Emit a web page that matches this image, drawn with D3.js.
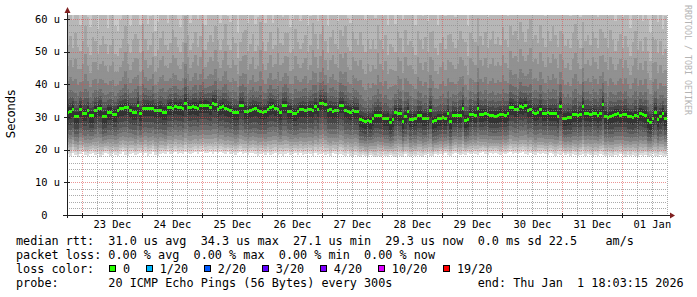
<!DOCTYPE html>
<html><head><meta charset="utf-8">
<script src="https://cdn.jsdelivr.net/npm/d3@7/dist/d3.min.js"></script>
<style>
html,body{margin:0;padding:0;background:#fff;}
svg{display:block;}
text{white-space:pre;}
</style></head><body>
<svg id="chart" width="697" height="297"></svg>
<script>
// ---------------- data ----------------
const endTime = new Date(2026, 0, 1, 18, 3, 15);
const firstStep = new Date(2025, 11, 22, 18, 0, 0);   // hourly consolidated steps
const yMax = 61.2;
const yTickValues = [0, 10, 20, 30, 40, 50, 60];
const yTickLabels = ["0  ", "10 u", "20 u", "30 u", "40 u", "50 u", "60 u"];
const xTickDates = [new Date(2025,11,23,12), new Date(2025,11,24,12), new Date(2025,11,25,12), new Date(2025,11,26,12), new Date(2025,11,27,12),
                    new Date(2025,11,28,12), new Date(2025,11,29,12), new Date(2025,11,30,12), new Date(2025,11,31,12), new Date(2026,0,1,12)];
const xTickLabels = ["23 Dec", "24 Dec", "25 Dec", "26 Dec", "27 Dec", "28 Dec", "29 Dec", "30 Dec", "31 Dec", "01 Jan"];

// median rtt per hour (us)
const median = [
 31.5,31.6,32.4,30.0,30.1,32.4,31.0,31.0,32.0,30.4, 30.4,32.0,32.6,32.6,30.0,30.2,31.5,31.5,30.8,30.8,
 32.0,32.5,32.5,32.8,32.8,32.0,31.5,31.5,33.5,31.0, 32.6,32.6,32.7,32.5,32.6,32.0,32.0,32.1,31.5,31.5,
 32.8,33.0,32.5,33.2,32.8,33.0,32.6,34.2,33.0,32.8, 33.2,33.0,32.7,33.5,33.5,33.6,33.4,33.0,34.2,33.9,
 32.2,32.8,33.2,32.5,32.4,32.0,31.4,31.3,31.3,33.5, 33.4,31.8,31.6,32.0,32.4,32.5,32.1,31.6,31.5,31.6,
 32.4,33.0,33.1,32.6,32.4,31.3,33.5,33.4,31.8,31.8, 31.2,31.0,31.6,32.2,32.3,32.0,32.2,32.4,32.1,33.2,
 32.2,34.0,34.0,33.8,32.0,32.2,31.8,32.0,32.1,33.5, 33.4,32.0,31.8,31.5,32.0,31.7,31.6,29.2,28.8,28.5,
 29.0,28.6,29.4,30.5,30.6,30.3,29.6,29.4,29.6,28.2, 29.2,31.3,31.2,31.1,28.6,30.0,31.6,29.3,29.3,29.5,
 30.6,30.6,29.6,29.6,29.6,32.0,28.6,28.8,29.5,29.5, 29.7,29.6,31.0,28.6,30.6,30.6,30.4,30.6,32.7,29.0,
 29.2,30.8,30.8,30.6,32.7,30.8,30.8,31.0,30.8,30.4, 30.4,30.2,30.4,30.8,30.8,30.6,31.0,33.0,32.8,32.2,
 32.2,33.2,32.8,33.5,32.0,32.3,31.5,31.2,31.4,32.2, 31.1,31.1,31.3,31.1,31.0,31.1,30.2,33.3,29.6,29.6,
 29.9,29.8,30.7,30.7,30.5,30.7,33.3,31.0,31.0,30.8, 31.2,31.0,30.6,31.0,33.7,30.2,29.8,30.0,30.3,30.8,
 31.0,30.6,30.8,30.9,30.2,30.0,29.8,30.4,30.2,31.1, 30.8,30.6,28.8,28.4,29.5,31.5,29.3,30.0,31.2,29.6
];
// spread of the upper pings per hour (relative to the typical profile)
const upperSpread = [
 1.05,1.20,0.95,1.35,1.10,0.90,1.15,1.40,1.00,0.95, 1.25,1.10,0.85,1.00,1.30,1.15,0.90,1.05,1.20,0.95,
 0.85,0.95,1.10,1.30,1.00,0.90,1.15,1.25,1.05,0.95, 1.35,1.10,0.90,1.00,1.20,0.85,0.95,1.15,1.30,1.05,
 0.90,1.00,1.25,1.10,0.95,0.85,1.05,1.40,1.15,0.90, 1.00,1.20,0.95,1.10,1.30,0.85,1.00,1.15,0.95,1.25,
 1.10,0.90,1.05,1.35,1.00,0.95,1.20,1.10,0.85,1.00, 1.15,1.30,0.95,1.05,1.20,0.90,1.00,1.45,1.10,0.95,
 1.05,1.20,0.90,1.00,1.30,1.10,0.95,1.15,1.25,0.90, 1.00,1.35,1.10,0.95,1.05,1.20,0.90,1.00,1.40,1.15,
 0.95,1.10,1.25,1.00,0.90,1.15,1.30,1.05,0.95,1.20, 1.10,1.35,1.00,0.95,1.25,1.15,1.05,1.40,1.20,1.10,
 1.30,1.15,1.25,1.05,1.45,1.20,1.10,1.35,1.00,1.25, 1.15,0.95,1.30,1.20,1.10,1.40,1.05,1.25,1.15,1.00,
 1.35,1.20,1.10,1.30,1.05,1.25,1.45,1.15,1.00,1.20, 1.30,1.10,1.25,1.40,1.15,1.05,1.20,1.35,1.10,1.25,
 1.00,1.30,1.20,1.15,1.45,1.25,1.10,1.30,1.05,1.20, 1.35,1.15,1.25,1.10,1.40,1.20,1.05,1.30,1.15,1.25,
 1.10,1.35,1.20,1.00,1.30,1.45,1.15,1.25,1.10,1.35, 1.20,1.05,1.30,1.15,1.40,1.25,1.10,1.20,1.35,1.15,
 1.25,1.10,1.30,1.45,1.20,1.05,1.35,1.15,1.25,1.10, 1.30,1.20,1.05,1.35,1.15,1.25,1.10,1.40,1.20,1.00,
 1.15,1.30,1.05,1.25,1.10,0.95,1.20,1.35,1.05,1.15, 1.00,1.25,1.10,0.95,1.30,1.15,1.05,1.20,0.90,1.10
];
// fastest ping per hour (us)
const lowerEdge = [
 18.8,18.2,19.0,18.5,17.9,18.6,19.2,18.4,18.0,18.8, 19.1,18.3,18.7,17.8,18.5,19.0,18.6,18.2,18.9,18.4,
 18.0,18.7,19.2,18.5,18.1,18.8,19.0,18.3,18.6,19.1, 18.4,18.9,18.2,18.7,19.3,18.5,18.0,18.8,19.0,18.6,
 19.2,18.7,18.9,19.4,18.8,19.1,18.6,19.3,19.0,18.7, 19.0,19.4,18.8,19.2,19.5,18.9,19.1,19.3,18.8,19.2,
 18.9,19.3,19.0,18.6,19.2,18.8,19.1,18.5,18.9,19.2, 18.7,19.0,18.4,18.9,19.1,18.6,18.2,18.8,19.0,18.5,
 18.9,18.3,18.7,19.1,18.5,18.8,18.2,18.6,19.0,18.4, 18.8,19.1,18.5,18.9,18.3,18.7,19.0,18.6,18.2,18.9,
 18.5,18.8,19.1,18.4,18.7,18.1,18.9,18.6,18.3,18.8, 18.4,18.0,18.6,18.2,17.8,18.5,18.1,17.9,18.4,18.0,
 17.7,18.3,18.0,17.6,18.2,17.9,18.5,18.1,17.8,18.3, 18.0,17.7,18.4,18.1,17.9,18.6,18.2,17.8,18.3,18.0,
 18.5,18.2,17.9,18.4,18.7,18.1,18.0,18.6,18.3,18.8, 18.4,18.9,18.5,18.2,18.7,19.0,18.6,18.3,18.8,18.5,
 18.9,18.6,19.1,18.7,18.4,18.9,19.2,18.8,18.5,19.0, 18.7,19.1,18.8,18.4,19.0,18.6,18.9,19.3,18.7,19.0,
 18.6,18.9,19.2,18.8,18.5,19.1,18.7,18.3,18.9,18.6, 19.0,18.7,18.4,18.9,18.6,18.2,18.8,18.5,18.9,18.3,
 18.6,18.1,18.7,18.4,18.0,18.5,18.8,18.2,18.6,18.3, 17.9,18.4,18.1,18.7,18.3,18.0,18.5,18.2,17.8,18.4,
 18.1,18.6,18.3,17.9,18.4,18.0,18.5,18.2,17.7,18.3, 18.0,18.4,17.8,18.2,18.6,18.1,17.9,18.5,18.2,18.0
];
// typical sorted ping profile (20 pings) for a 31.5 us median
const lowerProfile = [19.0, 19.8, 20.6, 21.5, 22.5, 23.6, 24.8, 26.1, 27.6, 29.2];
const upperProfile = [33.0, 34.0, 35.4, 37.4, 40.5, 45.0, 51.0, 60.0, 69.0, 85.0];

const lossLabels = ["0", "1/20", "2/20", "3/20", "4/20", "10/20", "19/20"];
const lossColors = ["#26ff00", "#00b8ff", "#0059ff", "#5e00ff", "#7e00ff", "#dd00ff", "#ff0000"];
const rttStats = ["31.0 us avg", "34.3 us max", "27.1 us min", "29.3 us now", "0.0 ms sd", "22.5", "am/s"];
const lossStats = ["0.00 % avg", "0.00 % max", "0.00 % min", "0.00 % now"];
const probeText = "20 ICMP Echo Pings (56 Bytes) every 300s";
const endText = "end: Thu Jan  1 18:03:15 2026";

// ---------------- layout ----------------
const W = 697, H = 297;
const L = 67, R = 667, T = 15, B = 215;
const mono = "'DejaVu Sans Mono', monospace";
const startTime = new Date(endTime.getTime() - 10 * 864e5);

const svg = d3.select("#chart");
svg.append("rect").attr("width", W).attr("height", H).attr("fill", "#fff");

const x = d3.scaleTime().domain([startTime, endTime]).range([L, R]);
const y = d3.scaleLinear().domain([0, yMax]).range([B, T]);

svg.append("defs").append("clipPath").attr("id", "plotclip")
  .append("rect").attr("x", L).attr("y", T).attr("width", R - L).attr("height", B - T);

// build sorted ping ranks per step
const lo0 = lowerProfile[0], lo9 = lowerProfile[9], up0 = upperProfile[0];
const refMed = 31.5;
const steps = median.map((m, i) => {
  const t = d3.timeHour.offset(firstStep, i);
  const lowTop = m - (refMed - lo9);
  const edge = lowerEdge[i];
  const ranks = [];
  lowerProfile.forEach(p => ranks.push(edge + (p - lo0) / (lo9 - lo0) * (lowTop - edge)));
  upperProfile.forEach(p => ranks.push(m + (up0 - refMed) + (p - up0) * upperSpread[i]));
  return { t, m, ranks: ranks.map(v => Math.min(v, yMax)) };
});
const last = steps[steps.length - 1];
steps.push({ t: d3.timeHour.offset(last.t, 1), m: last.m, ranks: last.ranks });

const plot = svg.append("g").attr("clip-path", "url(#plotclip)");

// smoke: layers from outermost (light) to innermost (dark)
const half = 10;
for (let ibot = 1; ibot <= half; ibot++) {
  const itop = 21 - ibot;
  const c = Math.floor(190 / half * (half - ibot)) + 50;
  const area = d3.area().curve(d3.curveStepAfter)
    .x(d => x(d.t)).y0(d => y(d.ranks[ibot - 1])).y1(d => y(d.ranks[itop - 1]));
  plot.append("path").datum(steps).attr("d", area)
    .attr("fill", d3.rgb(c, c, c).formatHex()).attr("shape-rendering", "crispEdges");
}

// median band coloured by loss (all 0 loss)
const medArea = d3.area().curve(d3.curveStepAfter)
  .x(d => x(d.t)).y0(d => y(d.m) + 1.5).y1(d => y(d.m) - 1.5);
plot.append("path").datum(steps).attr("d", medArea)
  .attr("fill", lossColors[0]).attr("shape-rendering", "crispEdges");

// grid on top
const grid = svg.append("g").attr("shape-rendering", "crispEdges");
const minorCol = "rgba(143,143,143,0.75)", majorCol = "rgba(222,79,79,0.6)";
d3.range(2, 61, 2).filter(v => v % 10 !== 0).forEach(v => {
  grid.append("line").attr("x1", L).attr("x2", R).attr("y1", Math.round(y(v)) + 0.5).attr("y2", Math.round(y(v)) + 0.5)
    .attr("stroke", minorCol).attr("stroke-dasharray", "1,1");
});
d3.timeHour.every(6).range(startTime, endTime).filter(d => d.getHours() !== 0).forEach(d => {
  const xx = Math.round(x(d)) + 0.5;
  grid.append("line").attr("x1", xx).attr("x2", xx).attr("y1", T).attr("y2", B)
    .attr("stroke", minorCol).attr("stroke-dasharray", "1,1");
});
yTickValues.filter(v => v > 0).forEach(v => {
  grid.append("line").attr("x1", L).attr("x2", R).attr("y1", Math.round(y(v)) + 0.5).attr("y2", Math.round(y(v)) + 0.5)
    .attr("stroke", majorCol).attr("stroke-dasharray", "1,1");
});
d3.timeDay.range(startTime, endTime).forEach(d => {
  const xx = Math.round(x(d)) + 0.5;
  grid.append("line").attr("x1", xx).attr("x2", xx).attr("y1", T).attr("y2", B)
    .attr("stroke", majorCol).attr("stroke-dasharray", "1,1");
});

// axes
const yAxis = d3.axisLeft(y).tickValues(yTickValues).tickFormat((d, i) => yTickLabels[i]).tickSize(0).tickPadding(7);
const gy = svg.append("g").attr("transform", `translate(${L},0)`).call(yAxis);
gy.select(".domain").remove();
gy.selectAll("text").attr("font-family", mono).attr("font-size", "10.4px").attr("fill", "#000");

const xAxis = d3.axisBottom(x).tickValues(xTickDates).tickFormat((d, i) => xTickLabels[i]).tickSize(0).tickPadding(5.6);
const gx = svg.append("g").attr("transform", `translate(0,${B})`).call(xAxis);
gx.select(".domain").remove();
gx.selectAll("text").attr("font-family", mono).attr("font-size", "10.4px").attr("fill", "#000");

const axisCol = "#1f1f1f", arrowCol = "#7f1f1f";
const ax = svg.append("g").attr("shape-rendering", "crispEdges");
yTickValues.forEach(v => {
  const yy = Math.round(y(v)) + 0.5;
  ax.append("line").attr("x1", L - 3).attr("x2", L + 3).attr("y1", yy).attr("y2", yy).attr("stroke", axisCol);
});
d3.timeDay.range(startTime, endTime).forEach(d => {
  const xx = Math.round(x(d)) + 0.5;
  ax.append("line").attr("x1", xx).attr("x2", xx).attr("y1", B - 2).attr("y2", B + 3).attr("stroke", axisCol);
});
ax.append("line").attr("x1", L + 0.5).attr("x2", L + 0.5).attr("y1", B + 3).attr("y2", 11).attr("stroke", axisCol);
ax.append("line").attr("x1", L - 4).attr("x2", R + 4).attr("y1", B + 0.5).attr("y2", B + 0.5).attr("stroke", axisCol);
svg.append("path").attr("d", `M${L - 2.5},${13} L${L + 0.5},${7} L${L + 3.5},${13} Z`).attr("fill", arrowCol);
svg.append("path").attr("d", `M${R + 3},${B - 2.5} L${R + 8},${B + 0.5} L${R + 3},${B + 3.5} Z`).attr("fill", arrowCol);

// y title
svg.append("text").attr("transform", "translate(15,114) rotate(-90)").attr("text-anchor", "middle")
  .attr("font-family", "'DejaVu Sans', sans-serif").attr("font-size", "11.5px").attr("fill", "#000").text("Seconds");
// watermark
svg.append("text").attr("transform", "translate(685,5) rotate(90)").attr("text-anchor", "start")
  .attr("font-family", mono).attr("font-size", "8.3px").attr("fill", "#b4b4b4").text("RRDTOOL / TOBI OETIKER");

// legend
const lg = svg.append("g").attr("font-family", mono).attr("font-size", "11.8px").attr("fill", "#000");
const addLine = (str, yy, xx = 16) => lg.append("text").attr("x", xx).attr("y", yy).attr("xml:space", "preserve").text(str);
addLine("median rtt:  " + rttStats.slice(0, 4).join("  ") + "  " + rttStats[4] + " " + rttStats[5] + "    " + rttStats[6], 245);
addLine("packet loss: " + lossStats.join("  "), 259);
addLine("loss color:", 273);
let bx = 109;
lossLabels.forEach((lab, i) => {
  lg.append("rect").attr("x", bx + 0.5).attr("y", 265.5).attr("width", 6).attr("height", 6)
    .attr("fill", lossColors[i]).attr("stroke", "#000").attr("stroke-width", 1).attr("shape-rendering", "crispEdges");
  const tx = addLine(lab, 273, bx + 14);
  bx = bx + 14 + tx.node().getComputedTextLength() + 15.6;
});
addLine("probe:       " + probeText + "            " + endText, 287);
</script>
</body></html>
